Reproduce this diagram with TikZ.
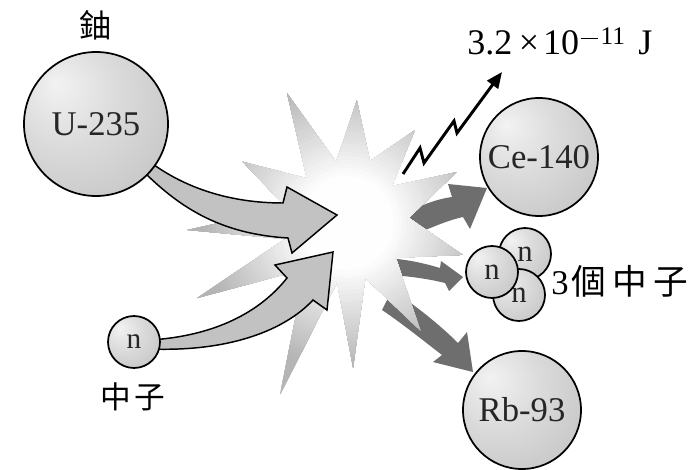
\documentclass[tikz,border=0pt]{standalone}
\usepackage{fontspec}
\setmainfont{Liberation Serif}
\newfontfamily\cjk{Noto Sans CJK TC}
\usetikzlibrary{arrows.meta}

% light grey nucleus with a highlight towards the upper left
\pgfdeclareradialshading{sphereshade}{\pgfpoint{-14bp}{14bp}}{%
  color(0bp)=(gray!10); color(18bp)=(gray!28); color(40bp)=(gray!46); color(72bp)=(gray!56)}

\definecolor{inarrow}{gray}{0.76}
\definecolor{outarrow}{gray}{0.43}

\begin{document}
\begin{tikzpicture}[x=0.75pt, y=-0.75pt,
  ball/.style={circle, draw=black, line width=1.3pt, shading=sphereshade,
    inner sep=0pt, text=black!85},
  bigball/.style={ball, minimum size=88.5pt, font=\fontsize{26}{26}\selectfont},
  smallball/.style={ball, minimum size=39pt, font=\fontsize{23}{23}\selectfont},
  inflow/.style={fill=inarrow, draw=black, line width=1.1pt, line join=miter},
  outflow/.style={fill=outarrow},
  cjktext/.style={font=\cjk\fontsize{#1}{#1}\selectfont, inner sep=0pt},
]
\useasboundingbox (0,0) rectangle (695,470);

% ---- fragments leaving the burst (behind it) ----
\fill[outflow] (385,226) .. controls (410,210) and (430,200) .. (452,197)
  -- (448,184) -- (487,188) -- (470,229) -- (463,217)
  .. controls (440,222) and (420,234) .. (392,242) -- cycle;
\fill[outflow] (378,258) .. controls (400,258) and (420,262) .. (440,268)
  -- (441,261) -- (463,277) -- (449,291) -- (445,283)
  .. controls (425,278) and (405,276) .. (382,274) -- cycle;
\fill[outflow] (392,290) .. controls (415,305) and (440,325) .. (458,343)
  -- (467,332) -- (473,372) -- (433,362) -- (442,355)
  .. controls (420,338) and (400,322) .. (382,310) -- cycle;

% ---- the burst: white core fading to grey towards the spike tips ----
\begin{scope}[shift={(347,223)}]
  \path[clip] (-149.6:121) -- (-132:60) -- (-114.8:143) -- (-100:62)
    -- (-85.4:123) -- (-69.6:66) -- (-53.8:115) -- (-39.4:58)
    -- (-24.9:121) -- (-4.8:62) -- (15.4:120) -- (35.5:60)
    -- (55.7:130) -- (71.6:58) -- (87.6:145) -- (99.5:60)
    -- (111.3:185) -- (132.3:62) -- (153.4:168) -- (165.5:64)
    -- (177.5:160) -- (194:62) -- cycle;
  \foreach \rad in {187,183,...,47} {
    \pgfmathtruncatemacro\grayshare{max(0,min(58,58*(\rad-45)/100))}
    \fill[gray!\grayshare] (0,0) circle (\rad);
  }
\end{scope}

% ---- incoming uranium nucleus and neutron ----
\filldraw[inflow] (150,162) .. controls (185,188) and (230,203) .. (283,203)
  -- (287,187) -- (337,215) -- (292,253) -- (288,238)
  .. controls (220,234) and (180,207) .. (146,174) -- cycle;
\filldraw[inflow] (150,340) .. controls (215,336) and (260,312) .. (287,278)
  -- (275,265) -- (333,252) -- (327,310) -- (313,300)
  .. controls (285,330) and (230,352) .. (150,349) -- cycle;

% ---- nuclei ----
\node[ball, minimum size=108pt, font=\fontsize{26}{26}\selectfont] (U) at (96,124) {U-235};
\node[bigball] (Ce) at (539,157) {Ce-140};
\node[bigball] (Rb) at (522,410) {Rb-93};
\node[smallball, font=\fontsize{22}{22}\selectfont] (n0) at (134,342) {n};
\node[smallball] (n2) at (525,254) {\raisebox{-2pt}{n}};
\node[smallball] (n3) at (519,295) {n};
\node[smallball] (n1) at (492,272) {n};

% ---- released energy ----
\coordinate (zs) at (403,174);
\coordinate (ze) at (502,72);
\draw[line width=2.2pt, line join=miter, -{Triangle[length=12pt,width=10pt]}]
  (zs) -- (420,148) -- (424,163) -- (454,121) -- (457,133) -- (ze);

% ---- labels ----
\node[cjktext=24] (Uname) at (95,25) {鈾};
\node[cjktext=23] (nname) at (133,397) {中\hspace{3pt}子};
\node[anchor=base west, inner sep=0pt, font=\fontsize{26}{26}\selectfont] (trio) at (551,294)
  {3\hspace{2pt}{\cjk 個\hspace{5pt}中\hspace{5pt}子}};
\node[anchor=base west, inner sep=0pt, font=\fontsize{27}{27}\selectfont] (energy) at (467,55)
  {3.2\hspace{5pt}×\hspace{3pt}10\hspace{1pt}\raisebox{8pt}{\fontsize{19}{19}\selectfont
   \rule[3.8pt]{13pt}{1.1pt}\hspace{2pt}11}\hspace{10pt}J};
\end{tikzpicture}
\end{document}
